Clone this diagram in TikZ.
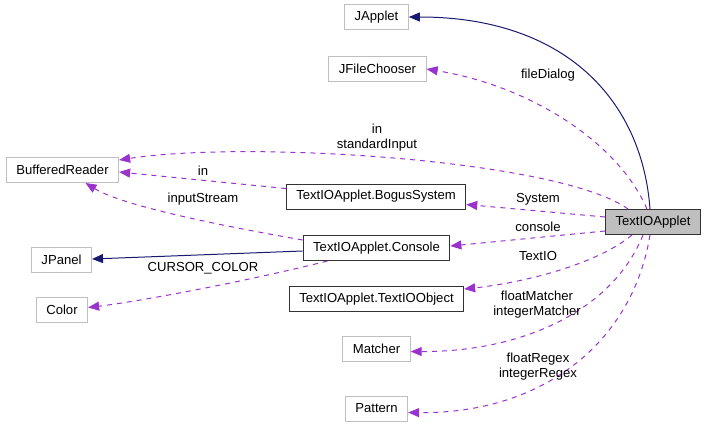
\documentclass[tikz,border=0pt]{standalone}
\usepackage{fontspec}
\setmainfont{Liberation Sans}
\usetikzlibrary{arrows.meta}

\definecolor{edgeblue}{HTML}{191970}
\definecolor{edgepurple}{HTML}{9A32CD}
\definecolor{boxgray}{HTML}{BFBFBF}

\begin{document}
\begin{tikzpicture}[x=1pt, y=-1pt,
  every node/.style={font=\fontsize{13.1}{15}\selectfont},
  ext/.style={draw=boxgray, line width=1pt, inner xsep=10pt, minimum height=25pt},
  cls/.style={draw=black!80, line width=1pt, inner xsep=10pt, minimum height=25pt},
  main/.style={cls, fill=boxgray},
  inh/.style={draw=edgeblue, line width=1pt, -{Triangle[length=11pt, width=9pt]}},
  use/.style={draw=edgepurple, line width=1pt, dash pattern=on 5pt off 5pt, -{Triangle[length=11pt, width=9pt]}},
  lbl/.style={align=center, inner sep=0pt, font=\fontsize{13.1}{15}\selectfont}]
\useasboundingbox (0,0) rectangle (708,428);

\node [ext] (japplet) at (376.5, 17) {JApplet};
\node [ext] (chooser) at (377.5, 69) {JFileChooser};
\node [ext] (reader) at (62.5, 170) {BufferedReader};
\node [cls] (bogus) at (376, 196.5) {TextIOApplet.BogusSystem};
\node [main] (applet) at (653, 222) {TextIOApplet};
\node [cls] (console) at (376.5, 248) {TextIOApplet.Console};
\node [ext] (jpanel) at (61.5, 260) {JPanel};
\node [ext] (color) at (62, 309.5) {Color};
\node [cls] (tobject) at (376.5, 299) {TextIOApplet.TextIOObject};
\node [ext] (matcher) at (376.5, 348.5) {Matcher};
\node [ext] (pattern) at (376.5, 408.5) {Pattern};

\draw [inh] ([xshift=-3pt]applet.north) .. controls (642,100) and (565,17) .. (japplet.east);
\draw [inh] ([yshift=-3pt]console.west) -- ([yshift=1pt]jpanel.east);

\draw [use] ([xshift=-6pt]applet.north) .. controls (618,142) and (530,86) .. (chooser.east);
\draw [use] ([xshift=-25pt]applet.north) .. controls (560,160) and (250,140) .. ([yshift=10pt]reader.east);
\draw [use] ([yshift=8pt]bogus.west) -- ([yshift=-2pt]reader.east);
\draw [use] ([yshift=8pt]console.west) .. controls (200,222) and (120,204) .. ([xshift=23pt]reader.south);
\draw [use] ([xshift=-49pt]console.south) .. controls (260,278) and (150,300) .. ([yshift=2pt]color.east);
\draw [use] ([yshift=5pt]applet.west) -- ([yshift=-8pt]bogus.east);
\draw [use] ([yshift=-9pt]applet.west) -- ([yshift=2pt]console.east);
\draw [use] ([xshift=-21pt]applet.south) .. controls (600,262) and (530,282) .. ([yshift=10pt]tobject.east);
\draw [use] ([xshift=-10pt]applet.south) .. controls (612,312) and (520,352) .. ([yshift=-3pt]matcher.east);
\draw [use] ([xshift=-3pt]applet.south) .. controls (632,345) and (540,414) .. ([yshift=-4pt]pattern.east);

\node [lbl] (l_dialog) at (548, 75) {fileDialog};
\node [lbl] (l_stdin) at (377, 138) {in\\standardInput};
\node [lbl] (l_in) at (203, 171) {in};
\node [lbl] (l_stream) at (203, 199) {inputStream};
\node [lbl] (l_cursor) at (203, 268) {CURSOR\_COLOR};
\node [lbl] (l_system) at (538, 199) {System};
\node [lbl] (l_console) at (538, 227) {console};
\node [lbl] (l_textio) at (538, 256) {TextIO};
\node [lbl] (l_matcher) at (537, 305) {floatMatcher\\integerMatcher};
\node [lbl] (l_regex) at (538, 367) {floatRegex\\integerRegex};

\end{tikzpicture}
\end{document}
